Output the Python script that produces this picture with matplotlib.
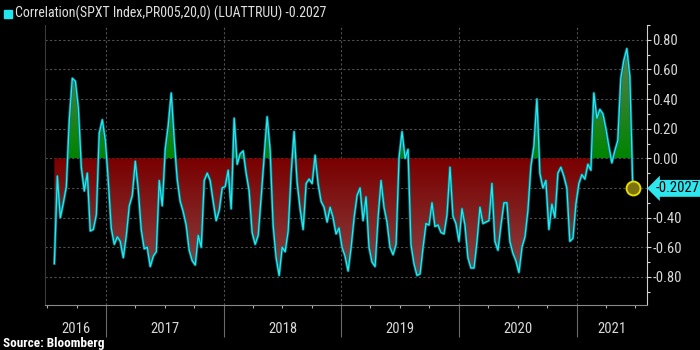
import matplotlib
matplotlib.use("Agg")
import matplotlib.pyplot as plt
import matplotlib.dates as mdates
import numpy as np
import pandas as pd
from matplotlib.path import Path
from matplotlib.patches import Rectangle
from matplotlib.transforms import blended_transform_factory

plt.rcParams['font.family'] = ['Roboto Condensed', 'Liberation Sans Narrow', 'Roboto', 'DejaVu Sans']
plt.rcParams['axes.unicode_minus'] = False

# 20-day rolling correlation, SPXT vs LUATTRUU (sampled every few days)
corr_2016 = [-0.71, -0.12, -0.40, -0.30, -0.19, 0.26, 0.54, 0.52, 0.34, -0.06,
             -0.22, -0.10, -0.49, -0.48, -0.38, 0.17, 0.26, 0.12, -0.15, -0.47,
             -0.58, -0.53, -0.56, -0.67, -0.52, -0.32, -0.25, -0.02, -0.21, -0.48,
             -0.61]
corr_2017 = [-0.60, -0.73, -0.66, -0.63, -0.15, -0.32, 0.06, 0.22, 0.44, 0.12,
             -0.14, -0.29, -0.36, -0.45, -0.62, -0.69, -0.72, -0.52, -0.60, -0.15,
             -0.10, -0.15, -0.29, -0.42, -0.35, -0.20, -0.19, -0.08, -0.34, 0.27,
             -0.04, 0.03, 0.05, -0.10]
corr_2018 = [-0.22, -0.50, -0.58, -0.52, -0.26, 0.01, 0.28, 0.05, -0.45, -0.67,
             -0.79, -0.60, -0.63, -0.49, -0.10, 0.18, -0.16, -0.34, -0.48, -0.17,
             -0.14, -0.17, 0.02, -0.17, -0.29, -0.33, -0.43, -0.33, -0.40, -0.51,
             -0.47, -0.60, -0.66]
corr_2019 = [-0.76, -0.60, -0.40, -0.25, -0.20, -0.42, -0.26, -0.60, -0.70, -0.73,
             -0.40, -0.15, -0.33, -0.43, -0.60, -0.65, -0.58, 0.00, 0.18, 0.00,
             0.06, -0.58, -0.71, -0.79, -0.78, -0.60, -0.44, -0.45, -0.30, -0.46,
             -0.45, -0.50, -0.51]
corr_2020 = [-0.38, -0.06, -0.39, -0.44, -0.56, -0.34, -0.45, -0.67, -0.74, -0.74,
             -0.56, -0.33, -0.44, -0.43, -0.42, -0.17, -0.56, -0.62, -0.45, -0.30,
             -0.30, -0.56, -0.64, -0.69, -0.77, -0.60, -0.53, -0.35, -0.05, 0.08,
             0.40, -0.10, -0.20, -0.15]
corr_2021 = [-0.48, -0.31, -0.40, -0.10, -0.06, -0.12, -0.20, -0.56, -0.54, -0.31,
             -0.17, -0.11, -0.14, -0.04, -0.08, 0.44, 0.27, 0.33, 0.30, 0.20,
             0.08, -0.03, 0.05, 0.12, 0.54, 0.66, 0.74, 0.55, -0.2027]

values = np.array(corr_2016 + corr_2017 + corr_2018 + corr_2019 + corr_2020 + corr_2021)
dates = pd.date_range('2016-07-24', '2021-06-23', periods=len(values))
years = [2016, 2017, 2018, 2019, 2020, 2021]
last_value = -0.2027

x = mdates.date2num(dates)
x0 = mdates.date2num(pd.Timestamp('2016-06-25'))
x1 = mdates.date2num(pd.Timestamp('2021-08-06'))
ymin, ymax = -0.99, 0.90

fig = plt.figure(figsize=(7, 3.5), dpi=100, facecolor='black')
ax = fig.add_axes([45 / 700, 45 / 350, 602 / 700, 280 / 350])
ax.set_facecolor('black')

# gridlines
for v in np.arange(-0.8, 0.81, 0.2):
    ax.axhline(v, color='#505050', lw=0.8, ls=(0, (2, 2)), zorder=0)
for yr in years[1:]:
    ax.axvline(mdates.date2num(pd.Timestamp(f'{yr}-01-01')), color='#505050',
               lw=0.8, ls=(0, (2, 2)), zorder=0)


def gradient(c_lo, c_hi, n=256):
    lo = np.array(matplotlib.colors.to_rgb(c_lo))
    hi = np.array(matplotlib.colors.to_rgb(c_hi))
    t = np.linspace(0, 1, n)[:, None]
    return (lo + (hi - lo) * t)[:, None, :]


neg = ax.fill_between(x, values, 0, where=values < 0, interpolate=True,
                      facecolor='none', edgecolor='none')
pos = ax.fill_between(x, values, 0, where=values > 0, interpolate=True,
                      facecolor='none', edgecolor='none')

red = ax.imshow(gradient('#8e5454', '#7a0000'), extent=[x0, x1, -1.0, 0],
                origin='lower', aspect='auto', zorder=1, interpolation='bilinear')
red.set_clip_path(Path.make_compound_path(*neg.get_paths()), transform=ax.transData)
green = ax.imshow(gradient('#008400', '#627f58'), extent=[x0, x1, 0, 0.8],
                  origin='lower', aspect='auto', zorder=1, interpolation='bilinear')
green.set_clip_path(Path.make_compound_path(*pos.get_paths()), transform=ax.transData)

ax.plot(x, values, color='#0f6f78', lw=2.0, zorder=2)
ax.plot(x, values, color='#20ecf2', lw=0.9, zorder=3)
ax.plot(x[-1], last_value, 'o', ms=10, mfc='#7d7210', mec='#e6dc00', mew=1.4, zorder=4)

ax.set_xlim(x0, x1)
ax.set_ylim(ymin, ymax)


def value_label(v, pos):
    v = round(v, 2) + 0
    if v == -0.2:
        return ''  # hidden behind the last-value tag
    return f'{v:.2f}'


# right-hand value axis
ax.yaxis.tick_right()
ax.set_yticks(np.arange(-0.8, 0.81, 0.2))
ax.set_yticks(np.arange(-0.9, 0.91, 0.1), minor=True)
ax.yaxis.set_major_formatter(plt.FuncFormatter(value_label))
ax.tick_params(axis='y', which='major', colors='#d8d8d8', length=3, width=0.8,
               labelsize=10.5, pad=1)
ax.tick_params(axis='y', which='minor', colors='#d8d8d8', length=2, width=0.8)

# time axis: year separators and quarter ticks
ax.set_xticks([mdates.date2num(pd.Timestamp(f'{yr}-01-01')) for yr in years[1:]])
ax.xaxis.set_minor_locator(mdates.MonthLocator(bymonth=[1, 4, 7, 10]))
ax.set_xticklabels([])
ax.tick_params(axis='x', which='major', colors='#6a6a6a', length=23, width=0.8)
ax.tick_params(axis='x', which='minor', colors='#b0b0b0', length=2.5, width=0.8)

trans = blended_transform_factory(ax.transData, ax.transAxes)
for yr in years:
    a = max(x0, mdates.date2num(pd.Timestamp(f'{yr}-01-01')))
    b = min(x1, mdates.date2num(pd.Timestamp(f'{yr + 1}-01-01')))
    ax.text((a + b) / 2, -0.085, str(yr), transform=trans, ha='center', va='center',
            color='#d8d8d8', fontsize=10.5)

ax.spines['top'].set_visible(False)
ax.spines['left'].set_color('#3a3a3a')
ax.spines['bottom'].set_color('#8a8a8a')
ax.spines['right'].set_color('#d0d0d0')

# last value tag
ax.annotate(f'{last_value:.4f}', xy=(1.0, last_value), xycoords=('axes fraction', 'data'),
            xytext=(6.5, 0), textcoords='offset points', ha='left', va='center',
            fontsize=10.5, color='black', annotation_clip=False,
            bbox=dict(boxstyle='larrow,pad=0.1', fc='#2ee6ee', ec='none'))

# header and footer
fig.patches.append(Rectangle((4 / 700, 1 - 18 / 350), 8 / 700, 8 / 350,
                             transform=fig.transFigure, color='#22e6ee'))
fig.text(15 / 700, 1 - 13.5 / 350, 'Correlation(SPXT Index,PR005,20,0) (LUATTRUU) -0.2027',
         color='#e0e0e0', fontsize=10, va='center', ha='left')
fig.text(3 / 700, 1 - 343 / 350, 'Source: Bloomberg', color='white', fontsize=9.5,
         fontweight='bold', va='center', ha='left')

fig.savefig('out.png', dpi=100, facecolor='black')
